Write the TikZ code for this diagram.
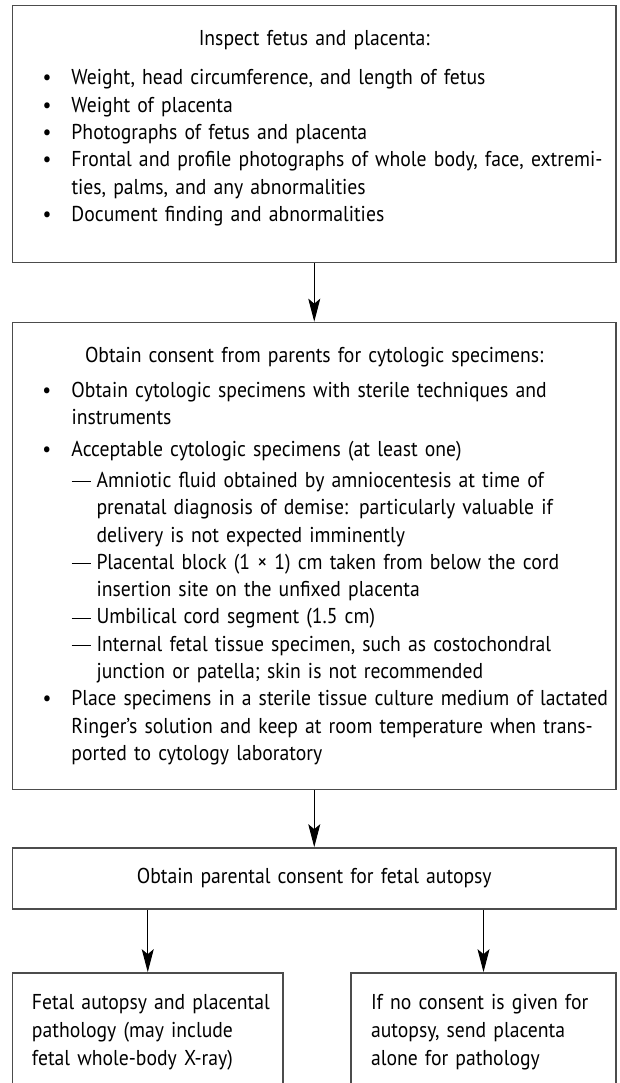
\documentclass[tikz,border=0pt]{standalone}
\usepackage{fontspec}
\setmainfont{PT Sans}[FakeStretch=0.915]
\usetikzlibrary{arrows.meta}

\newcommand{\bul}{\par\leftskip=30pt\hangindent=29pt\hangafter=1\noindent\makebox[29pt][l]{\textbullet}}
\newcommand{\subdash}{\par\leftskip=30pt\hangindent=54pt\hangafter=1\noindent\hspace*{29pt}\makebox[25pt][l]{\rule[5.5pt]{19pt}{0.9pt}}}

\tikzset{
    box/.style={draw=black!70, line width=1.7pt, rectangle, inner sep=0pt, align=left,
        font=\fontsize{21.5}{27.3}\selectfont},
    flow/.style={-{Stealth[length=23pt,width=12pt,inset=5pt]}, line width=1pt},
}

\begin{document}
\begin{tikzpicture}[x=1pt,y=-1pt]
    \useasboundingbox (0,0) rectangle (619,1083);

    \node[box, text width=603.5pt, minimum height=257pt] (inspect) at (314.25,134) {%
        \makebox[\linewidth][c]{Inspect fetus and placenta:}\par\vspace{12pt}
        \bul Weight, head circumference, and length of fetus
        \bul Weight of placenta
        \bul Photographs of fetus and placenta
        \bul Frontal and profile photographs of whole body, face, extremi-\newline ties, palms, and any abnormalities
        \bul Document finding and abnormalities\rule[-16pt]{0pt}{16pt}\par};

    \node[box, text width=603.5pt, minimum height=467pt] (cyto) at (314.25,556) {%
        \makebox[\linewidth][c]{Obtain consent from parents for cytologic specimens:}\par\vspace{8pt}
        \bul Obtain cytologic specimens with sterile techniques and\newline instruments\par\vspace{4pt}
        \bul Acceptable cytologic specimens (at least one)\par\vspace{4pt}
        \subdash Amniotic fluid obtained by amniocentesis at time of\newline prenatal diagnosis of demise: particularly valuable if\newline delivery is not expected imminently
        \subdash Placental block (1 × 1) cm taken from below the cord\newline insertion site on the unfixed placenta
        \subdash Umbilical cord segment (1.5 cm)
        \subdash Internal fetal tissue specimen, such as costochondral\newline junction or patella; skin is not recommended
        \bul Place specimens in a sterile tissue culture medium of lactated\newline Ringer’s solution and keep at room temperature when trans-\newline ported to cytology laboratory\par};

    \node[box, text width=603.5pt, minimum height=61pt, align=center] (consent) at (314.25,878.5) {Obtain parental consent for fetal autopsy};

    \node[box, text width=270.5pt, minimum height=118pt, font=\fontsize{21.5}{28}\selectfont] (autopsy) at (147.75,1032) {%
        \leftskip=19.5pt Fetal autopsy and placental\newline pathology (may include\newline fetal whole-body X-ray)\par};

    \node[box, text width=265pt, minimum height=118pt, font=\fontsize{21.5}{28}\selectfont] (noconsent) at (483.5,1032) {%
        \leftskip=20pt If no consent is given for\newline autopsy, send placenta\newline alone for pathology\par};

    \draw[flow] (inspect.south) -- (cyto.north);
    \draw[flow] (cyto.south) -- (consent.north);
    \draw[flow] (autopsy.north |- consent.south) -- (autopsy.north);
    \draw[flow] (noconsent.north |- consent.south) -- (noconsent.north);
\end{tikzpicture}
\end{document}
